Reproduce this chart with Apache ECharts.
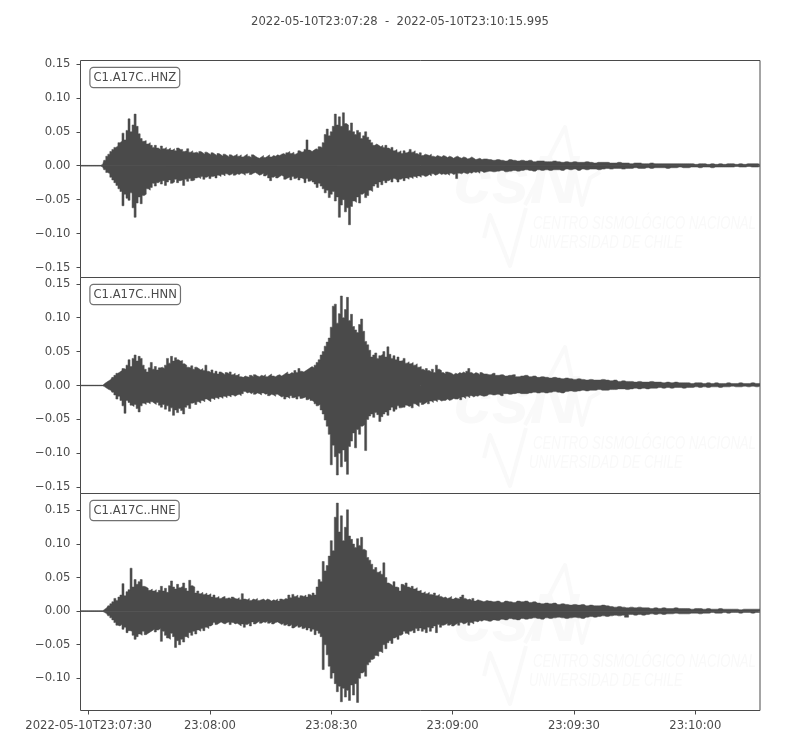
<!DOCTYPE html>
<html>
<head>
<meta charset="utf-8">
<style>html,body{margin:0;padding:0;background:#fff}#c{width:800px;height:750px}</style>
<script src="https://cdn.jsdelivr.net/npm/echarts@6/dist/echarts.min.js"></script>
</head>
<body>
<div id="c"></div>
<script>
// Envelope values are in thousandths of the y unit.
// Samples: every 0.5 s from 0 s to 100 s (rows of 20), then every 1 s (rows of 10).
const hnzUpper = [
.5,.5,.5,.5,.5,.5,.5,.5,.5,.5,.5,2,8,14,17,21,24,27,29,34,
36,48,38,52,69,50,60,76,58,47,40,36,37,32,34,30,27,30,26,24,
29,25,27,24,26,23,25,22,26,24,24,21,22,25,20,22,19,20,18,21,
19,17,20,18,16,19,17,15,18,16,14,17,15,13,16,14,15,17,14,16,
13,15,17,14,12,16,14,12,11,13,15,12,14,16,13,15,14,16,15,17,
18,16,19,21,18,20,17,19,22,20,21,24,38,23,21,23,25,24,28,27,
34,46,54,44,50,58,76,60,72,58,78,62,60,52,63,50,46,52,49,40,
44,50,42,38,34,30,32,30,28,30,27,30,26,24,27,22,24,20,22,18,
22,19,21,24,20,22,18,16,19,15,17,16,15,17,14,13,15,14,13,15,
14,12,14,13,11,13,14,12,11,13,12,10,11,13,11,9,10,11,9,10,
10,9,8,9,8,7,9,8,7,8,
7,8,6,7,7,6,6,7,6,5,
6,5,6,5,5,6,5,4,5,5,
5,4,4,5,4,4,3,4,4,3,
3,4,3,3,3,3,3,3,3,3,
3,3,2,3,3,2,3,2,3,2,
3,3,2,3,2,3,3,3,2];
const hnzLower = [
-.5,-.5,-.5,-.5,-.5,-.5,-.5,-.5,-.5,-.5,-.5,-2,-6,-10,-12,-17,-21,-25,-29,-34,
-38,-59,-42,-48,-51,-40,-62,-76,-55,-46,-56,-44,-42,-34,-36,-32,-26,-30,-25,-23,
-27,-22,-29,-24,-21,-26,-24,-20,-25,-22,-21,-29,-20,-23,-19,-22,-21,-18,-17,-19,
-16,-20,-17,-15,-19,-16,-15,-18,-14,-16,-13,-15,-12,-14,-13,-11,-14,-12,-13,-11,
-12,-14,-11,-10,-13,-11,-10,-12,-14,-13,-11,-15,-13,-18,-22,-17,-15,-18,-16,-14,
-16,-20,-18,-17,-21,-16,-19,-17,-21,-18,-20,-25,-19,-23,-21,-24,-27,-32,-26,-30,
-34,-40,-36,-47,-42,-38,-52,-46,-76,-58,-50,-68,-62,-87,-60,-52,-54,-46,-55,-42,
-40,-47,-44,-36,-38,-30,-27,-32,-24,-28,-22,-25,-22,-20,-24,-19,-21,-24,-20,-18,
-22,-18,-20,-17,-19,-16,-18,-15,-17,-14,-16,-15,-13,-15,-12,-14,-13,-11,-13,-12,
-13,-12,-14,-11,-13,-12,-19,-11,-12,-10,-11,-12,-10,-11,-9,-10,-9,-11,-8,-10,
-9,-8,-9,-8,-7,-9,-8,-7,-8,-7,
-6,-7,-8,-6,-7,-6,-7,-6,-6,-7,
-5,-6,-5,-7,-5,-6,-5,-5,-6,-5,
-4,-5,-4,-4,-5,-4,-4,-3,-4,-4,
-3,-4,-3,-3,-3,-4,-3,-3,-2,-3,
-3,-2,-2,-3,-2,-2,-3,-2,-2,-2,
-2,-2,-1,-2,-2,-1,-2,-2,-1];
const hnnUpper = [
.5,.5,.5,.5,.5,.5,.5,.5,.5,.5,.5,.5,3,5,7,9,12,15,18,20,
22,25,24,30,38,28,40,45,36,43,40,30,24,20,26,34,24,28,23,26,
27,25,30,40,33,43,36,41,38,36,37,32,30,27,26,29,24,27,25,23,
25,22,30,21,19,23,18,21,17,20,18,16,19,17,20,16,18,15,17,13,
12,14,13,12,15,13,16,14,13,15,14,16,13,15,17,14,13,15,16,14,
16,18,20,17,19,18,22,19,25,21,20,22,24,26,28,26,30,34,38,45,
50,58,64,70,86,117,120,92,106,132,100,112,130,96,105,87,82,78,90,98,
80,65,60,52,42,45,48,40,44,46,50,42,57,46,40,44,38,42,36,37,
40,33,35,32,34,30,32,27,28,24,22,25,22,20,24,19,30,24,22,19,
17,20,19,18,16,18,17,19,18,20,18,21,25,19,17,19,18,16,19,17,
17,16,18,15,16,14,15,16,13,14,
15,13,14,12,13,12,11,12,11,10,
11,10,9,10,9,8,9,8,8,9,
8,7,8,6,7,6,6,5,6,5,
5,6,5,5,4,5,4,5,4,4,
4,3,4,4,3,4,3,4,3,3,
4,3,3,4,3,3,4,3,3];
const hnnLower = [
-.5,-.5,-.5,-.5,-.5,-.5,-.5,-.5,-.5,-.5,-.5,-.5,-2,-4,-6,-7,-10,-14,-20,-16,
-22,-30,-41,-22,-25,-29,-31,-28,-34,-39,-30,-26,-28,-25,-27,-24,-26,-28,-25,-29,
-32,-28,-35,-30,-38,-33,-44,-36,-40,-34,-37,-42,-32,-29,-34,-26,-25,-28,-24,-26,
-22,-24,-20,-22,-24,-19,-21,-18,-20,-17,-19,-16,-18,-15,-17,-14,-16,-14,-13,-15,
-12,-9,-11,-10,-12,-10,-13,-11,-12,-14,-11,-13,-12,-15,-13,-14,-16,-13,-15,-17,
-16,-20,-17,-19,-15,-18,-17,-20,-16,-19,-18,-17,-21,-19,-22,-24,-27,-30,-28,-36,
-42,-51,-60,-72,-117,-88,-105,-132,-100,-120,-95,-112,-131,-90,-82,-70,-92,-65,-72,-60,
-58,-96,-50,-45,-42,-47,-40,-43,-53,-46,-42,-39,-44,-36,-32,-38,-35,-30,-33,-32,
-32,-29,-31,-30,-33,-27,-29,-31,-25,-28,-26,-24,-27,-23,-25,-22,-24,-21,-23,-22,
-22,-20,-22,-21,-19,-20,-20,-18,-21,-17,-19,-16,-18,-15,-17,-15,-16,-14,-15,-16,
-15,-13,-14,-13,-15,-12,-13,-12,-11,-12,
-12,-11,-10,-11,-10,-11,-10,-9,-10,-11,
-9,-8,-9,-8,-7,-8,-7,-7,-6,-7,
-7,-6,-6,-5,-5,-6,-5,-4,-5,-4,
-5,-4,-4,-3,-4,-3,-4,-3,-3,-4,
-3,-3,-2,-3,-2,-3,-2,-2,-3,-2,
-2,-1,-2,-2,-1,-2,-1,-2,-1];
const hneUpper = [
.5,.5,.5,.5,.5,.5,.5,.5,.5,.5,.5,.5,3,5,8,11,14,19,16,21,
24,41,23,29,32,64,36,47,40,44,47,37,36,34,31,33,30,32,28,31,
37,30,34,28,38,45,36,33,40,35,37,42,34,30,46,38,36,27,30,26,
28,25,27,24,26,21,24,20,22,19,21,22,19,20,18,21,19,18,20,17,
26,18,17,19,16,18,17,19,16,17,18,16,18,17,15,17,16,18,15,18,
17,19,18,24,20,25,22,24,20,23,22,24,21,25,23,27,24,36,47,44,
74,60,68,82,105,90,140,161,118,142,105,125,151,112,107,100,95,108,98,110,
92,90,80,76,70,62,65,58,60,55,72,50,42,40,38,44,36,35,30,40,
38,42,36,34,37,33,35,30,31,27,29,26,28,25,24,27,23,25,22,20,
21,19,20,22,18,20,19,18,21,24,19,17,18,16,19,15,17,16,15,14,
16,15,14,15,13,15,14,13,15,14,
15,13,14,12,11,12,11,12,10,11,
10,9,10,9,10,8,9,8,8,9,
8,7,6,7,6,5,6,5,6,5,
5,4,5,4,5,4,4,5,4,4,
4,3,4,4,3,4,3,3,4,3,
3,3,3,2,3,3,3,3,3];
const hneLower = [
-.5,-.5,-.5,-.5,-.5,-.5,-.5,-.5,-.5,-.5,-.5,-.5,-2,-4,-7,-10,-13,-17,-21,-22,
-20,-27,-24,-32,-29,-30,-36,-42,-38,-34,-36,-30,-35,-33,-31,-29,-27,-31,-28,-26,
-45,-30,-36,-40,-42,-33,-38,-54,-44,-50,-42,-46,-38,-40,-32,-36,-30,-34,-28,-30,
-26,-29,-24,-26,-22,-20,-17,-20,-18,-16,-18,-19,-17,-16,-20,-17,-19,-18,-20,-22,
-19,-24,-20,-18,-22,-16,-19,-17,-15,-18,-16,-17,-15,-18,-16,-19,-17,-16,-18,-20,
-18,-21,-19,-22,-20,-25,-23,-21,-24,-22,-26,-24,-28,-25,-30,-27,-35,-29,-33,-38,
-87,-50,-65,-82,-100,-92,-108,-120,-112,-135,-115,-128,-118,-133,-110,-125,-108,-136,-100,-92,
-90,-97,-80,-76,-72,-70,-66,-67,-60,-62,-50,-56,-47,-44,-48,-40,-38,-42,-36,-34,
-30,-33,-35,-30,-28,-32,-26,-29,-25,-30,-27,-32,-24,-30,-25,-22,-32,-20,-24,-21,
-20,-18,-21,-19,-22,-20,-18,-21,-17,-19,-18,-16,-21,-17,-19,-15,-16,-14,-15,-13,
-14,-15,-13,-14,-12,-13,-11,-12,-13,-11,
-12,-11,-10,-11,-12,-10,-11,-10,-9,-10,
-11,-10,-9,-10,-11,-9,-8,-9,-8,-7,
-8,-7,-6,-7,-6,-9,-5,-6,-5,-6,
-5,-4,-5,-4,-5,-4,-4,-3,-4,-4,
-4,-3,-3,-4,-3,-3,-2,-3,-3,-2,
-3,-2,-2,-3,-2,-2,-3,-2,-2];

const channels = ['C1.A17C..HNZ', 'C1.A17C..HNN', 'C1.A17C..HNE'];
const uppers = [hnzUpper, hnnUpper, hneUpper];
const lowers = [hnzLower, hnnLower, hneLower];
const yMins = [-0.1647, -0.1593, -0.148];
const yMaxs = [0.155, 0.1593, 0.1753];
const yTicks = [
  [-0.15, -0.10, -0.05, 0, 0.05, 0.10, 0.15],
  [-0.15, -0.10, -0.05, 0, 0.05, 0.10, 0.15],
  [-0.10, -0.05, 0, 0.05, 0.10, 0.15]
];
const xTicks = [2, 32, 62, 92, 122, 152];
const xTickLabels = ['2022-05-10T23:07:30', '23:08:00', '23:08:30', '23:09:00', '23:09:30', '23:10:00'];
const titleText = '2022-05-10T23:07:28  -  2022-05-10T23:10:15.995';
const xMax = 167.995;

const ink = '#4a4a4a';
const font = '"DejaVu Sans", sans-serif';
const fontPx = 11.6;
const tops = [60, 277, 493];
const heights = [217, 216, 217];
const boxTops = [68, 285, 501];
const wmShift = [0, 220, 438];
const wm = '#f9f9f9';

const timeAt = i => Math.min(i < 200 ? i * 0.5 : 100 + (i - 200), xMax);
const toSeries = (arr, idx, name) => ({
  type: 'line', name, xAxisIndex: idx, yAxisIndex: idx,
  data: arr.map((v, i) => [timeAt(i), v / 1000]),
  showSymbol: false, symbol: 'none', step: 'middle',
  lineStyle: { color: ink, width: 0.5 },
  areaStyle: { color: ink, opacity: 1, origin: 0 },
  silent: true, animation: false, z: 3
});
const baseline = idx => ({
  type: 'line', name: 'zero ' + idx, xAxisIndex: idx, yAxisIndex: idx,
  data: [[0, 0], [xMax, 0]], showSymbol: false, symbol: 'none',
  lineStyle: { color: ink, width: 1 }, silent: true, animation: false, z: 4, clip: true
});

const fmtY = v => v.toFixed(2).replace('-', '\u2212');
const graphics = [];
channels.forEach((name, i) => {
  const d = wmShift[i];
  graphics.push(
    { type: 'text', z: 0, silent: true, style: { x: 454, y: 150 + d, text: 'csN', fill: wm, font: 'italic bold 68px "Liberation Sans", sans-serif' } },
    { type: 'polyline', z: 0, silent: true, shape: { points: [[525, 205 + d], [565, 127 + d], [582, 205 + d], [590, 178 + d], [600, 172 + d]] }, style: { stroke: wm, lineWidth: 4, fill: null, lineJoin: 'round' } },
    { type: 'polyline', z: 0, silent: true, shape: { points: [[484, 238 + d], [490, 215 + d], [510, 266 + d], [526, 208 + d]] }, style: { stroke: wm, lineWidth: 4, fill: null, lineJoin: 'round' } },
    { type: 'text', z: 0, silent: true, x: 533, y: 214 + d, scaleX: 0.69, style: { x: 0, y: 0, text: 'CENTRO SISMOL\u00d3GICO NACIONAL', fill: wm, font: 'italic 19px "Liberation Sans", sans-serif' } },
    { type: 'text', z: 0, silent: true, x: 529, y: 233 + d, scaleX: 0.69, style: { x: 0, y: 0, text: 'UNIVERSIDAD DE CHILE', fill: wm, font: 'italic 19px "Liberation Sans", sans-serif' } },
    { type: 'text', z: 20, silent: true, style: {
        x: 90.5, y: boxTops[i], text: name, fill: ink, font: fontPx + 'px ' + font,
        backgroundColor: '#fff', borderColor: '#707070', borderWidth: 1.2, borderRadius: 3,
        padding: [4, 3, 3, 3] } }
  );
});

const chart = echarts.init(document.getElementById('c'), null, { width: 800, height: 750 });
chart.setOption({
  animation: false,
  backgroundColor: '#fff',
  title: { text: titleText, left: 'center', top: 11, textStyle: { color: ink, fontSize: fontPx, fontWeight: 'normal', fontFamily: font } },
  grid: channels.map((_, i) => ({
    show: true, left: 80.5, width: 679.5, top: tops[i] + 0.5, height: heights[i],
    borderColor: ink, borderWidth: 1, backgroundColor: 'transparent', containLabel: false
  })),
  xAxis: channels.map((_, i) => ({
    type: 'value', gridIndex: i, min: 0, max: xMax, splitLine: { show: false },
    axisLine: { show: false, onZero: false },
    axisTick: i === 2 ? { show: true, length: 4, inside: false, lineStyle: { color: ink }, customValues: xTicks } : { show: false },
    axisLabel: i === 2 ? {
      show: true, color: ink, fontSize: fontPx, fontFamily: font, margin: 9, hideOverlap: false,
      customValues: xTicks,
      formatter: v => xTickLabels[xTicks.indexOf(v)]
    } : { show: false }
  })),
  yAxis: channels.map((_, i) => ({
    type: 'value', gridIndex: i, min: yMins[i], max: yMaxs[i], splitLine: { show: false },
    axisLine: { show: false, onZero: false },
    axisTick: { show: true, length: 4, lineStyle: { color: ink }, customValues: yTicks[i] },
    axisLabel: { show: true, color: ink, fontSize: fontPx, fontFamily: font, margin: 10, hideOverlap: false, customValues: yTicks[i], formatter: fmtY }
  })),
  series: channels.flatMap((n, i) => [toSeries(uppers[i], i, n + ' upper'), toSeries(lowers[i], i, n + ' lower'), baseline(i)]),
  graphic: graphics
});
</script>
</body>
</html>
